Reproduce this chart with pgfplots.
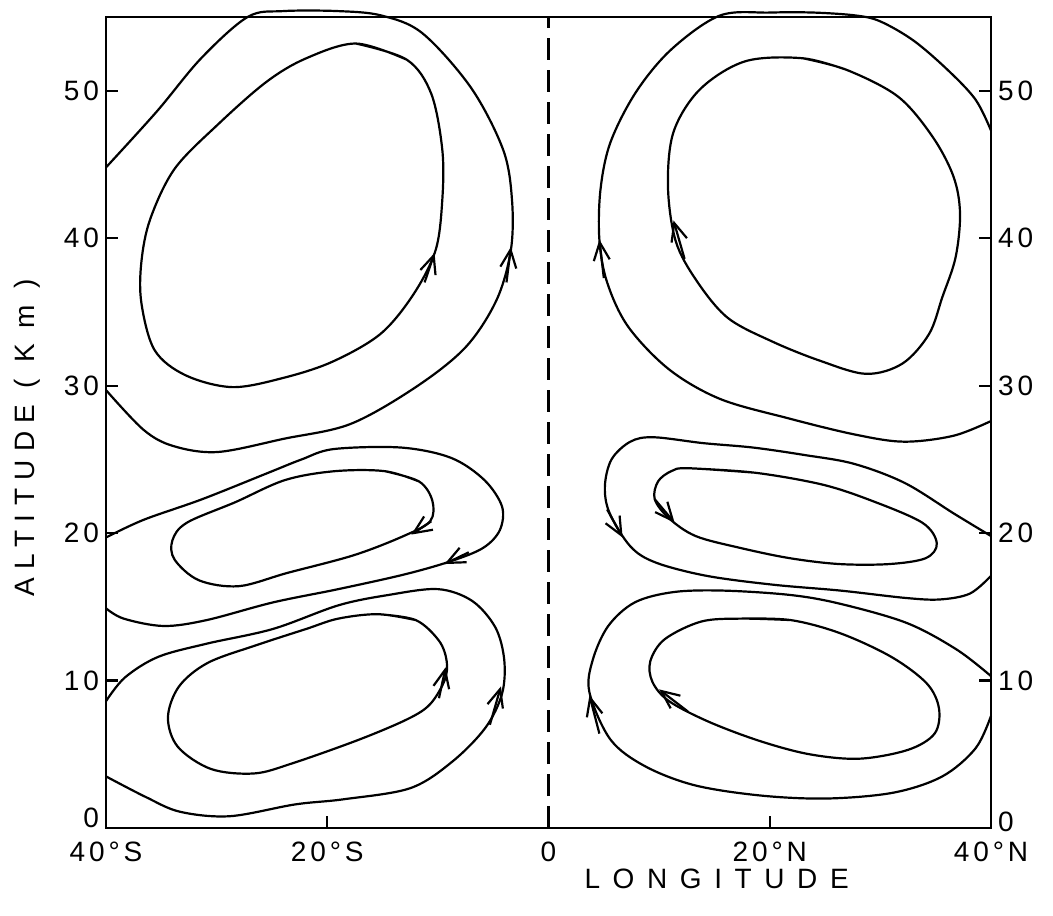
\documentclass[border=0pt]{standalone}
\usepackage{fontspec}
\setmainfont{Liberation Sans}
\usepackage{pgfplots}
\pgfplotsset{compat=1.18}
\usetikzlibrary{arrows.meta}

\begin{document}
\begin{tikzpicture}
\useasboundingbox (0,0) rectangle (526.5pt,457.5pt);
\pgfplotsset{
  cell/.style={black, line width=1.1pt, smooth, tension=0.55},
  arr/.style={black, line width=1.1pt, -{Straight Barb[length=9pt,width=8pt]}},
  common/.style={at={(53pt,43.5pt)}, anchor=south west, scale only axis,
    width=442.5pt, height=405.5pt, xmin=-40, xmax=40, ymin=0, ymax=55,
    clip=false, axis line style={line width=1.1pt},
    tick style={line width=1.1pt, black}, major tick length=6pt,
    tick label style={font=\fontsize{14}{16}\selectfont\addfontfeature{LetterSpace=14}}},
}
\begin{axis}[common,
  xtick={-40,-20,0,20,40},
  xticklabels={40°S,20°S,0,20°N,40°N},
  xtick pos=left, ytick pos=left,
  ytick={0,10,20,30,40,50},
  yticklabels={\raisebox{10pt}{0},10,20,30,40,50},
  xticklabel style={yshift=-3.5pt},
  xlabel={LONGITUDE},
  ylabel={ALTITUDE ( K m )},
  every axis x label/.style={at={(axis description cs:0.69,0)}, anchor=center, yshift=-25.5pt,
    font=\fontsize{14}{16}\selectfont\addfontfeature{LetterSpace=45}},
  every axis y label/.style={at={(axis description cs:0,0.481)}, anchor=center, xshift=-39.5pt, rotate=90,
    font=\fontsize{14}{16}\selectfont\addfontfeature{LetterSpace=30}},
]
% equator
\addplot[black, line width=1.1pt, dash pattern=on 11pt off 5pt] coordinates {(0,0) (0,55)};

% ---- upper southern cell
\addplot[cell] coordinates {(-40,44.8) (-35.4,48.6) (-31.4,52.2) (-27.2,55.0) (-24,55.4) (-19,55.4) (-15.1,55.1) (-11.4,53.9) (-7.0,50.2) (-4.1,46.0) (-3.3,42.6) (-3.4,39.2) (-4.7,35.8) (-7.5,32.6) (-12.0,29.9) (-17.9,27.4) (-23.9,26.4) (-29.9,25.5) (-33.9,25.9) (-36.6,27.0) (-40,29.7)};
\addplot[cell] coordinates {(-17.4,53.2) (-12.8,52.1) (-10.6,49.8) (-9.6,46.0) (-9.6,42.6) (-10.2,39.2) (-12.2,36.2) (-15.2,33.5) (-19.6,31.6) (-24.1,30.5) (-28.6,29.9) (-32.8,30.7) (-35.6,32.4) (-36.8,35.6) (-36.8,38.4) (-36.0,41.3) (-33.8,44.7) (-29.9,47.7) (-25.5,50.6) (-21.9,52.2) (-17.4,53.2) (-12.8,52.1)};

% ---- upper northern cell
\addplot[cell] coordinates {(40,47.3) (38.6,49.4) (36.1,51.4) (33.0,53.4) (30,54.7) (27.8,55.1) (24,55.3) (20,55.3) (15.5,55.1) (11.1,52.8) (7.9,49.9) (5.6,46.5) (4.7,43.3) (4.6,39.9) (5.3,37.0) (7.2,34.0) (10.9,31.1) (15.5,29.1) (21.6,27.8) (27.6,26.7) (32.1,26.2) (36.6,26.6) (40,27.6)};
\addplot[cell] coordinates {(23.0,52.2) (27.0,51.4) (31.6,49.6) (34.7,46.9) (36.6,44.2) (37.2,41.7) (36.8,38.7) (35.6,36.0) (34.4,33.5) (32.0,31.5) (28.7,30.8) (24.5,31.7) (20.2,33.0) (16.2,34.6) (13.4,37.1) (11.5,39.8) (10.8,43.5) (11.3,47.2) (13.7,50.1) (17.8,52.0) (23.0,52.2) (27.0,51.4)};

% ---- middle southern cell
\addplot[cell] coordinates {(-40,19.7) (-36.6,20.9) (-31.3,22.3) (-25.3,24.1) (-22.3,25.0) (-19.4,25.7) (-13.3,25.8) (-8.8,25.1) (-5.8,23.6) (-4.2,21.8) (-4.4,20.2) (-5.9,19.0) (-8.8,18.1) (-13.0,17.2) (-19.0,16.2) (-24.9,15.3) (-30.9,14.1) (-34.8,13.7) (-38.4,14.2) (-40,14.9)};
\addplot[cell] coordinates {(-14.8,24.2) (-11.7,23.5) (-10.5,22.2) (-10.7,20.8) (-13.1,19.8) (-17.6,18.5) (-23.6,17.3) (-28.0,16.4) (-31.6,16.8) (-33.8,18.2) (-34.0,19.5) (-32.7,20.7) (-28.3,22.1) (-23.8,23.6) (-19.3,24.2) (-14.8,24.2) (-11.7,23.5)};

% ---- middle northern cell
\addplot[cell] coordinates {(40,19.8) (36.7,21.3) (32.2,23.4) (27.6,24.7) (23.1,25.3) (18.5,25.8) (14.0,26.1) (9.5,26.5) (7.4,26.2) (5.7,25.0) (5.1,23.2) (5.5,21.4) (7.4,19.1) (9.7,18.0) (14.3,17.1) (20.3,16.5) (26.4,16.1) (32.3,15.6) (35.4,15.5) (38.1,15.9) (40,17.1)};
\addplot[cell] coordinates {(12.6,24.4) (18.6,24.1) (24.7,23.3) (29.2,22.2) (33.8,20.7) (35.1,19.3) (34.1,18.3) (30.8,17.9) (26.3,17.9) (21.8,18.3) (17.3,19.0) (13.3,19.8) (10.9,21.0) (9.6,22.3) (9.9,23.5) (11.1,24.2) (12.6,24.4) (18.6,24.1)};

% ---- lower southern cell
\addplot[cell] coordinates {(-40,8.6) (-38.3,10.2) (-35.3,11.6) (-30.9,12.5) (-24.9,13.5) (-19.0,15.1) (-14.5,15.8) (-10.0,16.2) (-6.9,15.4) (-4.8,13.6) (-4.0,11.4) (-4.2,9.1) (-5.7,6.8) (-8.7,4.5) (-12.5,2.7) (-18.5,1.95) (-22.9,1.6) (-28.8,0.8) (-33.3,1.1) (-36.4,2.1) (-40,3.5)};
\addplot[cell] coordinates {(-15.4,14.5) (-12.0,14.1) (-9.9,12.7) (-9.2,11.3) (-9.4,10.0) (-10.7,8.4) (-12.7,7.4) (-17.1,6.0) (-23.1,4.4) (-26.6,3.7) (-30.5,4.0) (-33.5,5.5) (-34.4,7.5) (-33.4,9.6) (-30.8,11.2) (-26.4,12.4) (-21.9,13.5) (-19.0,14.2) (-15.4,14.5) (-12.0,14.1)};

% ---- lower northern cell
\addplot[cell] coordinates {(40,10.3) (36.9,12.1) (32.4,13.9) (26.4,15.2) (21.9,15.8) (15.8,16.1) (11.3,16.0) (7.8,15.3) (5.4,13.7) (4.0,11.4) (3.7,9.2) (5.6,6.0) (8.7,4.2) (13.2,2.9) (19.2,2.2) (25.2,2.0) (31.2,2.4) (35.6,3.5) (38.6,5.4) (40,7.6)};
\addplot[cell] coordinates {(17.4,14.2) (21.9,14.1) (26.4,13.2) (31.0,11.6) (34.2,9.8) (35.3,8.1) (34.9,6.4) (32.5,5.3) (28.1,4.7) (23.6,5.0) (19.1,5.9) (14.5,7.2) (10.9,8.6) (9.4,9.9) (9.2,11.3) (10.5,12.8) (13.8,14.0) (17.4,14.2) (21.9,14.1)};

% ---- flow arrows
\addplot[arr] coordinates {(-3.8,37.0) (-3.4,39.4)};
\addplot[arr] coordinates {(-11.2,37.0) (-10.3,39.0)};
\addplot[arr] coordinates {(5.0,37.3) (4.6,39.9)};
\addplot[arr] coordinates {(12.3,38.6) (11.3,41.2)};
\addplot[arr] coordinates {(-7.2,18.7) (-9.4,17.9)};
\addplot[arr] coordinates {(-10.6,20.8) (-12.4,19.9)};
\addplot[arr] coordinates {(-5.3,7.0) (-4.3,9.6)};
\addplot[arr] coordinates {(-9.9,8.8) (-9.3,10.9)};
\addplot[arr] coordinates {(5.3,21.6) (6.7,19.7)};
\addplot[arr] coordinates {(9.6,22.3) (11.4,20.7)};
\addplot[arr] coordinates {(4.6,6.4) (3.7,9.0)};
\addplot[arr] coordinates {(12.6,7.9) (10.0,9.4)};
\end{axis}

% right-hand altitude labels
\begin{axis}[common,
  hide x axis,
  axis y line*=right,
  y axis line style={draw=none},
  ytick={0,10,20,30,40,50},
  yticklabels={\raisebox{6pt}{0},10,20,30,40,50},
  yticklabel pos=right,
  major tick length=6pt,
]
\end{axis}
\end{tikzpicture}
\end{document}
